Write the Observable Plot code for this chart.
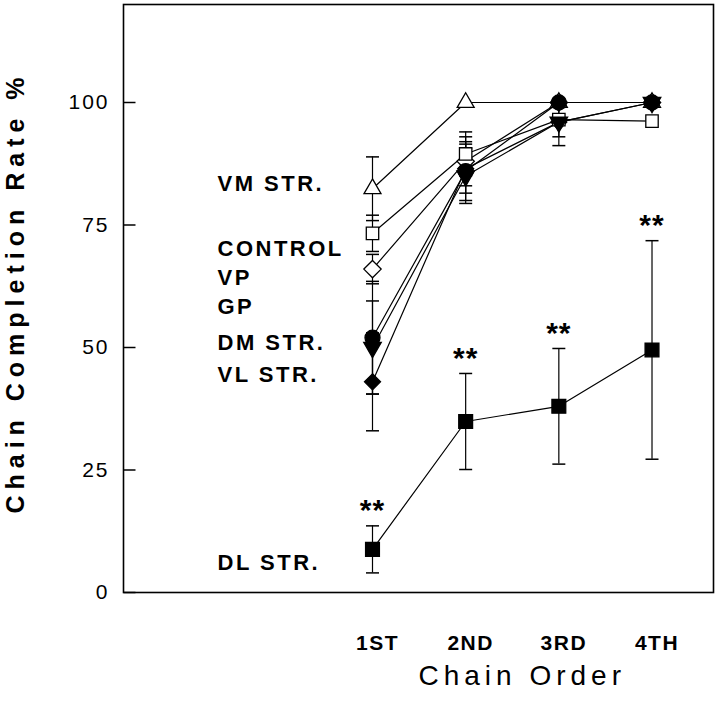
<!DOCTYPE html>
<html><head><meta charset="utf-8">
<script src="https://cdn.jsdelivr.net/npm/d3@7"></script>
<script src="https://cdn.jsdelivr.net/npm/@observablehq/plot@0.6"></script>
<style>
body{margin:0;background:#fff;}
#chart{width:720px;height:702px;}
</style></head><body><div id="chart"></div>
<script>
// ---- data ----
const chainOrder = ["1ST", "2ND", "3RD", "4TH"];
const orderIndex = [1, 2, 3, 4];
const groups = ["VM STR.", "CONTROL", "VP", "GP", "DM STR.", "VL STR.", "DL STR."];
const vmStr   = [82.4, 100, 100, 100];
const vmSe    = [6.5, 0, 0, 0];
const control = [73.3, 89.5, 96.5, 96.2];
const controlSe = [3.7, 4.5, 0, 0];
const vp      = [66, 88, 100, 100];
const vpSe    = [3, 5, 0, 0];
const gp      = [52, 86, 100, 100];
const gpSe    = [11.5, 6, 0, 0];
const dmStr   = [50, 85, 96, 100];
const dmSe    = [9.5, 5.6, 4.8, 0];
const vlStr   = [43, 86.5, 96, 100];
const vlSe    = [10, 5, 3, 0];
const dlStr   = [8.8, 34.9, 38, 49.5];
const dlSe    = [4.8, 9.8, 11.8, 22.3];
const labelValue = [83.3, 70.2, 64.1, 58.2, 51, 44.3, 6.1];
const yTicks = [0, 25, 50, 75, 100];
const yAxisTitle = "Chain Completion Rate %";
const xAxisTitle = "Chain Order";
const significance = "**";

// ---- tables ----
const values = [vmStr, control, vp, gp, dmStr, vlStr, dlStr];
const ses = [vmSe, controlSe, vpSe, gpSe, dmSe, vlSe, dlSe];
const rows = groups.flatMap((g, gi) => orderIndex.map((x, i) => ({group: g, x, v: values[gi][i], se: ses[gi][i]})));
const errRows = rows.filter(d => d.se > 0);
const dlRows = rows.filter(d => d.group === "DL STR.");
const labels = groups.map((g, i) => ({group: g, y: labelValue[i]}));

// ---- symbols ----
const diamondSym = {draw(ctx, size) {const r = Math.sqrt(size) * 0.62625; ctx.moveTo(0, -r); ctx.lineTo(r, 0); ctx.lineTo(0, r); ctx.lineTo(-r, 0); ctx.closePath();}};
const triDown = {draw(ctx, size) {const y = -Math.sqrt(size / (Math.sqrt(3) * 3)); ctx.moveTo(0, -2 * y); ctx.lineTo(Math.sqrt(3) * y, y); ctx.lineTo(-Math.sqrt(3) * y, y); ctx.closePath();}};
const capSym = {draw(ctx) {ctx.moveTo(-6.5, 0); ctx.lineTo(6.5, 0);}};
const tickSym = {draw(ctx) {ctx.moveTo(0, 0); ctx.lineTo(12, 0);}};

const markerStyle = {
  "VL STR.": {symbol: diamondSym, fill: "black", r: 7.2},
  "VP": {symbol: diamondSym, fill: "white", r: 7.8},
  "CONTROL": {symbol: "square", fill: "white", r: 7},
  "VM STR.": {symbol: "triangle", fill: "white", r: 6.3},
  "GP": {symbol: "circle", fill: "black", r: 7.5},
  "DM STR.": {symbol: triDown, fill: "black", r: 6.5},
  "DL STR.": {symbol: "square", fill: "black", r: 7.8}
};

const markerMarks = Object.keys(markerStyle).map(g => Plot.dot(rows.filter(d => d.group === g), {
  x: "x", y: "v", symbol: markerStyle[g].symbol, r: markerStyle[g].r,
  fill: markerStyle[g].fill, stroke: "black", strokeWidth: 1.3
}));

const plot = Plot.plot({
  width: 720, height: 702,
  marginLeft: 123, marginRight: 7, marginTop: 4, marginBottom: 110,
  style: {fontFamily: "'Liberation Sans', Arial, sans-serif", background: "white", color: "black"},
  x: {domain: [-1.6725, 4.66], axis: null},
  y: {domain: [0, 120], axis: null},
  marks: [
    Plot.frame({stroke: "black", strokeWidth: 1.6}),
    Plot.ruleX(errRows, {x: "x", y1: d => d.v - d.se, y2: d => d.v + d.se, stroke: "black", strokeWidth: 1.2}),
    Plot.dot(errRows, {x: "x", y: d => d.v + d.se, symbol: capSym, fill: "none", stroke: "black", strokeWidth: 1.5}),
    Plot.dot(errRows, {x: "x", y: d => d.v - d.se, symbol: capSym, fill: "none", stroke: "black", strokeWidth: 1.5}),
    Plot.line(rows, {x: "x", y: "v", z: "group", stroke: "black", strokeWidth: 1.2}),
    ...markerMarks,
    Plot.text(labels, {text: "group", y: "y", frameAnchor: "left", dx: 94, textAnchor: "start", lineAnchor: "middle",
      fontSize: 22, fontWeight: "bold", fill: "black"}),
    Plot.text(dlRows, {x: "x", y: d => d.v + d.se, text: () => significance, dy: -15, textAnchor: "middle",
      fontSize: 30, fontWeight: "bold", fill: "black"}),
    Plot.dot(yTicks, {y: d => d, frameAnchor: "left", symbol: tickSym, fill: "none", stroke: "black", strokeWidth: 1.5}),
    Plot.axisY(yTicks, {tickSize: 0, tickPadding: 14, fontSize: 21, label: null}),
    Plot.axisX(orderIndex, {tickSize: 0, tickPadding: 43, dx: 5, tickFormat: d => chainOrder[d - 1], fontSize: 21, fontWeight: "bold", label: null}),
    Plot.text([yAxisTitle], {frameAnchor: "left", textAnchor: "middle", lineAnchor: "middle", rotate: -90, dx: -108, dy: -6, fontSize: 25, fontWeight: "bold", fill: "black"}),
    Plot.text([xAxisTitle], {x: () => d3.mean(orderIndex), frameAnchor: "bottom", textAnchor: "middle", lineAnchor: "middle", dx: 10, dy: 84, fontSize: 28, fill: "black"})
  ]
});
document.getElementById("chart").append(plot);
const spacing = new Map();
groups.forEach(g => spacing.set(g, "2.5px"));
chainOrder.forEach(g => spacing.set(g, "1.5px"));
yTicks.forEach(t => spacing.set(String(t), "2px"));
spacing.set(yAxisTitle, "6px");
spacing.set(xAxisTitle, "5px");
spacing.set(significance, "1px");
d3.select(plot).selectAll("text").each(function() {
  const t = this.textContent;
  if (spacing.has(t)) this.style.letterSpacing = spacing.get(t);
});
</script></body></html>
